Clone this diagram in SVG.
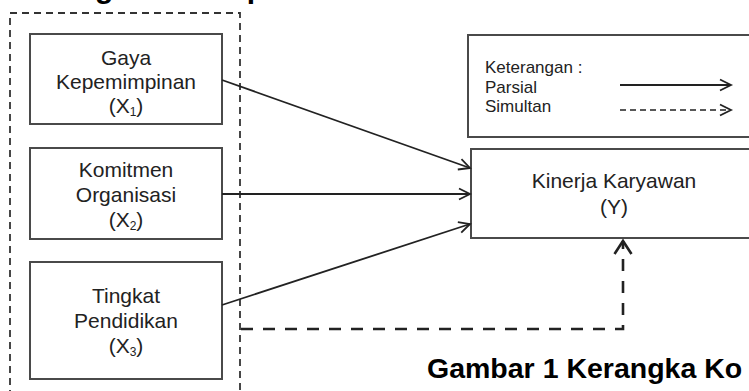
<svg xmlns="http://www.w3.org/2000/svg" width="749" height="391" viewBox="0 0 749 391">
<defs>
<style>
.box{fill:#fff;stroke:#4a4a4a;stroke-width:2}
.t{font-family:"Liberation Sans",Arial,sans-serif;font-size:21px;fill:#222;text-anchor:middle}
.k{font-family:"Liberation Sans",Arial,sans-serif;font-size:17px;fill:#222}
.sub{font-size:12px}
.cap{font-family:"Liberation Sans",Arial,sans-serif;font-weight:bold;fill:#000}
.solid{fill:none;stroke:#222;stroke-width:1.8}
.outer{fill:none;stroke:#333;stroke-width:1.8;stroke-dasharray:7 5}
.sim{fill:none;stroke:#222;stroke-width:2.6;stroke-dasharray:12 10}
.lsim{fill:none;stroke:#222;stroke-width:1.5;stroke-dasharray:6 4}
</style>
<marker id="ah" markerUnits="userSpaceOnUse" markerWidth="16" markerHeight="14" refX="13" refY="7" orient="auto">
<path d="M2,1.5 L13,7 L2,12.5" fill="none" stroke="#222" stroke-width="1.8"/>
</marker>
<marker id="ahs" markerUnits="userSpaceOnUse" markerWidth="20" markerHeight="20" refX="16" refY="10" orient="auto">
<path d="M3,1.5 L16,10 L3,18.5" fill="none" stroke="#222" stroke-width="2.6"/>
</marker>
</defs>
<rect width="749" height="391" fill="#fff"/>
<text class="cap" x="10" y="-2" font-size="30">Kerangka Konseptual</text>
<rect class="outer" x="10" y="13" width="230" height="400"/>
<g id="x1">
<rect class="box" x="30" y="34" width="192" height="90"/>
<text class="t" x="126" y="65">Gaya</text>
<text class="t" x="126" y="89">Kepemimpinan</text>
<text class="t" x="126" y="113">(X<tspan class="sub" dy="3">1</tspan><tspan dy="-3">)</tspan></text>
</g>
<g id="x2">
<rect class="box" x="30" y="148" width="192" height="91"/>
<text class="t" x="126" y="177">Komitmen</text>
<text class="t" x="126" y="202">Organisasi</text>
<text class="t" x="126" y="227">(X<tspan class="sub" dy="3">2</tspan><tspan dy="-3">)</tspan></text>
</g>
<g id="x3">
<rect class="box" x="30" y="262" width="192" height="117"/>
<text class="t" x="126" y="303">Tingkat</text>
<text class="t" x="126" y="328">Pendidikan</text>
<text class="t" x="126" y="353">(X<tspan class="sub" dy="3">3</tspan><tspan dy="-3">)</tspan></text>
</g>
<g id="legend">
<rect class="box" x="468" y="35" width="295" height="102"/>
<text class="k" x="485" y="73">Keterangan :</text>
<text class="k" x="485" y="93">Parsial</text>
<text class="k" x="485" y="112">Simultan</text>
<line class="solid" x1="620" y1="85" x2="731" y2="85" marker-end="url(#ah)"/>
<line class="lsim" x1="620" y1="110" x2="731" y2="110" marker-end="url(#ah)"/>
</g>
<g id="y">
<rect class="box" x="471" y="149" width="292" height="89"/>
<text class="t" x="614" y="188">Kinerja Karyawan</text>
<text class="t" x="614" y="214">(Y)</text>
</g>
<g id="connectors">
<line class="solid" x1="222" y1="80" x2="470" y2="168" marker-end="url(#ah)"/>
<line class="solid" x1="222" y1="194" x2="470" y2="194" marker-end="url(#ah)"/>
<line class="solid" x1="222" y1="305" x2="470" y2="224" marker-end="url(#ah)"/>
<path class="sim" d="M241,329 H623 V241" marker-end="url(#ahs)"/>
</g>
<text class="cap" x="427" y="378" font-size="28.5">Gambar 1 Kerangka Ko</text>
</svg>
